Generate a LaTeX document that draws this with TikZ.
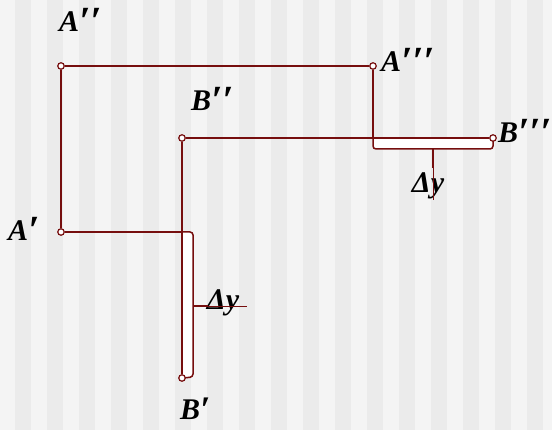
\documentclass[tikz,border=0pt]{standalone}
\usepackage{fontspec}
\setmainfont{Liberation Serif}
\definecolor{maroon}{RGB}{118,14,14}
\definecolor{bglight}{RGB}{244,244,244}
\definecolor{bgdark}{RGB}{235,235,235}
\newcommand\myprimes[1]{\raisebox{-3.5pt}[0pt][0pt]{\fontsize{40}{40}\selectfont #1}}
\newcommand\myprimeslow[1]{\raisebox{-2pt}[0pt][0pt]{\fontsize{36}{36}\selectfont #1}}
\begin{document}
\begin{tikzpicture}[x=1pt,y=-1pt,
  lbl/.style={font=\bfseries\itshape\fontsize{30}{30}\selectfont, inner sep=0pt, anchor=west, text height=19pt, text depth=0pt},
  dl/.style={font=\bfseries\itshape\fontsize{30}{30}\selectfont, inner sep=0pt},
  ptmark/.style={circle, draw=maroon, fill=white, line width=1.2pt, inner sep=0pt, minimum size=6.5pt},
  mainline/.style={draw=maroon, line width=2pt},
  brk/.style={draw=maroon, line width=1.5pt, fill=white, rounded corners=3pt},
  thick tick/.style={draw=maroon, line width=1.5pt},
  thin tick/.style={draw=maroon, line width=0.6pt}]
\fill[bglight] (0,0) rectangle (552,430);
\foreach \i in {0,...,16} \fill[bgdark] (15+32*\i,0) rectangle (31+32*\i,430);
\useasboundingbox (0,0) rectangle (552,430);

% junctions and tick ends
\coordinate (J1) at (373,138);
\coordinate (J2) at (182,232);
\coordinate (T1a) at (433,149);
\coordinate (T1b) at (433,168);
\coordinate (T1c) at (433,200);
\coordinate (T2a) at (193,306);
\coordinate (T2b) at (208,306);
\coordinate (T2c) at (247,306);

% brackets
\draw[brk] (J1) -- (373,149) -- (493,149) -- (493,139);
\draw[brk] (J2) -- (193,232) -- (193,377) -- (183,378);

% labels
\node[lbl] (lA2) at (59,22) {A\myprimes{′′}};
\node[lbl] (lA1) at (8,231) {A\myprimes{′}};
\node[lbl] (lA3) at (381,62) {A\myprimes{′′′}};
\node[lbl] (lB2) at (191,101) {B\myprimes{′′}};
\node[lbl] (lB3) at (498,133) {B\myprimes{′′′}};
\node[lbl] (lB1) at (180,410) {B\myprimeslow{′}};
\node[dl] (d1) at (428,186) {Δy};
\node[dl] (d2) at (223,303) {Δy};

\draw[thin tick] (T1a) -- (T1c);
\draw[thick tick] (T1a) -- (T1b);
\draw[thin tick] (T2a) -- (T2c);
\draw[thick tick] (T2a) -- (T2b);

\node[ptmark] (A2) at (61,66) {};
\node[ptmark] (A3) at (373,66) {};
\node[ptmark] (A1) at (61,232) {};
\node[ptmark] (B2) at (182,138) {};
\node[ptmark] (B3) at (493,138) {};
\node[ptmark] (B1) at (182,378) {};

\draw[mainline] (A1) -- (A2) -- (A3) -- (J1);
\draw[mainline] (A1) -- (J2);
\draw[mainline] (B1) -- (B2) -- (B3);
\end{tikzpicture}
\end{document}
